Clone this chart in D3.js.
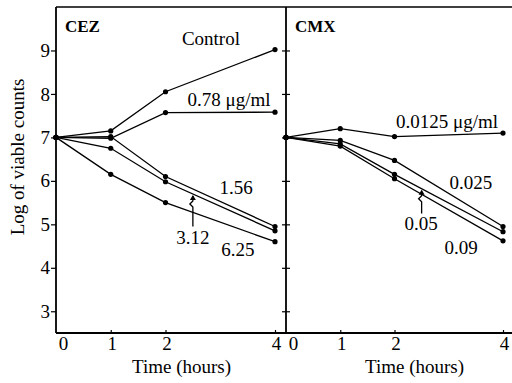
<!DOCTYPE html>
<html><head><meta charset="utf-8">
<script src="https://cdnjs.cloudflare.com/ajax/libs/d3/7.8.5/d3.min.js"></script>
<style>
html,body{margin:0;padding:0;background:#fff;}
svg{display:block;}
</style></head>
<body>
<script>
const hours = [0, 1, 2, 4];
const xTicks = [0, 1, 2, 4];
const yTicks = [3, 4, 5, 6, 7, 8, 9];
const cezLabels = ["Control", "0.78 \u03bcg/ml", "1.56", "3.12", "6.25"];
const cezValues = [
  [7, 7.15, 8.05, 9.02],
  [7, 6.98, 7.57, 7.58],
  [7, 7.02, 6.1, 4.95],
  [7, 6.75, 5.98, 4.85],
  [7, 6.15, 5.5, 4.6]
];
const cmxLabels = ["0.0125 \u03bcg/ml", "0.025", "0.05", "0.09"];
const cmxValues = [
  [7, 7.2, 7.02, 7.1],
  [7, 6.93, 6.47, 4.95],
  [7, 6.85, 6.15, 4.83],
  [7, 6.8, 6.05, 4.62]
];

const FONT = "'Liberation Serif', 'Times New Roman', Times, 'DejaVu Serif', serif";
const W = 512, H = 383;
const svg = d3.select("body").append("svg").attr("width", W).attr("height", H)
  .style("font-family", FONT);

const yTop = 7, yBot = 333;
const y = d3.scaleLinear().domain([2.5, 10]).range([yBot, yTop]);
const xL = d3.scaleLinear().domain([0, 4]).range([56, 275]);
const xR = d3.scaleLinear().domain([0, 4]).range([286, 503]);

function txt(sel) { return sel.style("font-family", FONT).attr("fill", "#000"); }

// frame
svg.append("line").attr("x1", 56).attr("x2", W).attr("y1", yTop).attr("y2", yTop)
  .attr("stroke", "#000").attr("stroke-width", 1.3);
svg.append("line").attr("x1", 56).attr("x2", W).attr("y1", yBot).attr("y2", yBot)
  .attr("stroke", "#000").attr("stroke-width", 2);

// y axes
const axL = svg.append("g").attr("transform", "translate(56,0)")
  .call(d3.axisLeft(y).tickValues(yTicks).tickSize(5).tickFormat(d3.format("d")));
const axR = svg.append("g").attr("transform", "translate(286,0)")
  .call(d3.axisLeft(y).tickValues(yTicks).tickSize(4).tickFormat(""));
[axL, axR].forEach(a => {
  a.select(".domain").remove();
  a.selectAll(".tick line").attr("stroke", "#000").attr("stroke-width", 1.2);
});
axR.selectAll(".tick line").attr("x1", 4);
txt(axL.selectAll(".tick text")).style("font-size", "19px").attr("x", -6);
[56, 286].forEach(px => svg.append("line").attr("x1", px).attr("x2", px).attr("y1", yTop).attr("y2", yBot)
  .attr("stroke", "#000").attr("stroke-width", 1.8));

// x axes
[xL, xR].forEach(xs => {
  const g = svg.append("g").attr("transform", `translate(0,${yBot})`)
    .call(d3.axisBottom(xs).tickValues(xTicks).tickSize(0).tickPadding(4).tickFormat(d3.format("d")));
  g.select(".domain").remove();
  txt(g.selectAll(".tick text")).style("font-size", "19px")
    .attr("x", d => d === 0 ? 7 : 1);
  g.selectAll(".tick").filter(d => d > 0).append("line")
    .attr("y1", 0).attr("y2", -3).attr("stroke", "#000").attr("stroke-width", 1.2);
});
txt(svg.append("text")).attr("x", (xL(0) + xL(4)) / 2 + 16).attr("y", 373).attr("text-anchor", "middle")
  .style("font-size", "19px").text("Time (hours)");
txt(svg.append("text")).attr("x", (xR(0) + xR(4)) / 2 + 20).attr("y", 373).attr("text-anchor", "middle")
  .style("font-size", "19px").text("Time (hours)");

txt(svg.append("text")).attr("transform", "translate(24,157) rotate(-90)").attr("text-anchor", "middle")
  .style("font-size", "19px").text("Log of viable counts");

// series
const line = xs => d3.line().x((d, i) => xs(hours[i])).y(d => y(d));
function drawSeries(xs, values) {
  values.forEach(vals => {
    svg.append("path").attr("d", line(xs)(vals)).attr("fill", "none")
      .attr("stroke", "#000").attr("stroke-width", 1.3);
    svg.selectAll(null).data(vals).enter().append("circle")
      .attr("cx", (d, i) => xs(hours[i])).attr("cy", d => y(d)).attr("r", 2.6).attr("fill", "#000");
  });
}
drawSeries(xL, cezValues);
drawSeries(xR, cmxValues);

// panel titles
txt(svg.append("text")).attr("x", 65).attr("y", 32).style("font-size", "17px").style("font-weight", "bold").text("CEZ");
txt(svg.append("text")).attr("x", 295).attr("y", 32).style("font-size", "17px").style("font-weight", "bold").text("CMX");

// series label anchors [time, value]
const cezLabelPos = [[2.83, 9.13], [3.16, 7.72], [3.29, 5.70], [2.5, 4.55], [3.32, 4.27]];
const cmxLabelPos = [[2.97, 7.22], [3.41, 5.81], [2.49, 4.87], [3.23, 4.32]];
cezLabels.forEach((t, i) => txt(svg.append("text")).attr("x", xL(cezLabelPos[i][0])).attr("y", y(cezLabelPos[i][1]))
  .attr("text-anchor", "middle").style("font-size", "19px").text(t));
cmxLabels.forEach((t, i) => txt(svg.append("text")).attr("x", xR(cmxLabelPos[i][0])).attr("y", y(cmxLabelPos[i][1]))
  .attr("text-anchor", "middle").style("font-size", "19px").text(t));

// pointer arrows
function pointer(xs, vals, labelTopVal) {
  const t = 2.5;
  const v = vals[2] + (vals[3] - vals[2]) * (t - 2) / 2;
  const px = xs(t), tip = y(v) + 2, bottom = y(labelTopVal);
  const p = d3.path();
  p.moveTo(px, bottom); p.lineTo(px, tip + 11); p.lineTo(px - 3, tip + 8); p.lineTo(px, tip + 5); p.lineTo(px, tip);
  svg.append("path").attr("d", p.toString()).attr("fill", "none").attr("stroke", "#000").attr("stroke-width", 1.3);
  svg.append("path").attr("d", `M${px - 3},${tip + 4}L${px},${tip - 1}L${px + 3},${tip + 4}Z`).attr("fill", "#000");
}
pointer(xL, cezValues[3], 4.95);
pointer(xR, cmxValues[2], 5.25);
</script>
</body></html>
